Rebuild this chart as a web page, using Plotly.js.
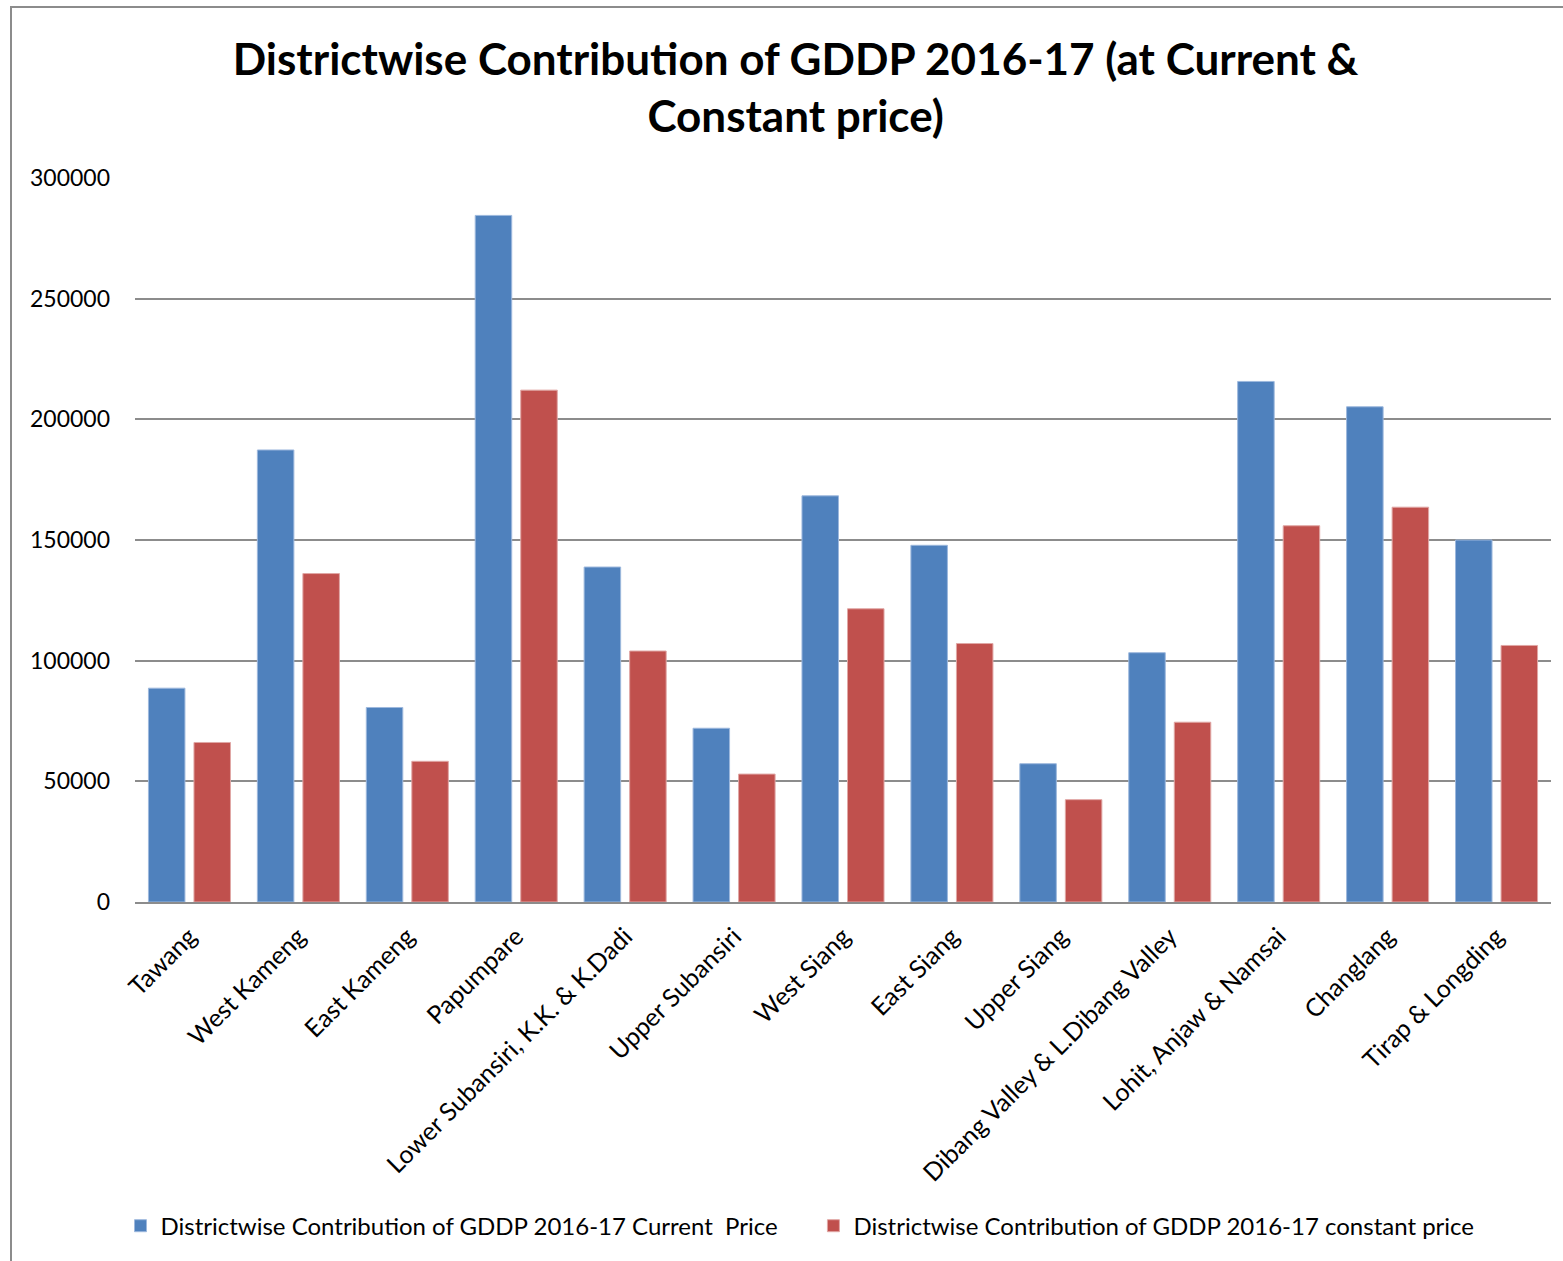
<!DOCTYPE html>
<html>
<head>
<meta charset="utf-8">
<script src="https://cdn.plot.ly/plotly-3.0.1.min.js"></script>
<style>
  html, body { margin: 0; padding: 0; background: #fff; }
  #wrap { position: relative; width: 1563px; height: 1261px; overflow: hidden; }
  #chart { position: absolute; left: 0; top: 0; width: 1563px; height: 1261px; }
  #frame { position: absolute; left: 10px; top: 6px; width: 1600px; height: 1300px;
           border-left: 2px solid #8c8c8c; border-top: 2px solid #8c8c8c; pointer-events: none; }
</style>
</head>
<body>
<div id="wrap">
  <div id="chart"></div>
  <div id="frame"></div>
</div>
<script>
const districts = [
  "Tawang", "West Kameng", "East Kameng", "Papumpare",
  "Lower Subansiri, K.K. & K.Dadi", "Upper Subansiri", "West Siang",
  "East Siang", "Upper Siang", "Dibang Valley & L.Dibang Valley",
  "Lohit, Anjaw & Namsai", "Changlang", "Tirap & Longding"
];
const currentPrice = [88600, 187300, 80600, 284500, 138800, 72000, 168300, 147800, 57300, 103300, 215700, 205200, 150000];
const constantPrice = [66100, 136100, 58300, 212100, 104000, 53000, 121500, 107100, 42400, 74500, 155900, 163600, 106300];
const seriesNames = [
  "Districtwise Contribution of GDDP 2016-17 Current \u00a0Price",
  "Districtwise Contribution of GDDP 2016-17 constant price"
];
const yTicks = [0, 50000, 100000, 150000, 200000, 250000, 300000];

const FONT = "Lato, 'Open Sans', sans-serif";

const traces = [
  {
    type: "bar", name: seriesNames[0] + "\u00a0\u00a0\u00a0\u00a0\u00a0", x: districts, y: currentPrice,
    marker: { color: "#4F81BD", line: { color: "#9db8dd", width: 1 } }
  },
  {
    type: "bar", name: seriesNames[1], x: districts, y: constantPrice,
    marker: { color: "#C0504D", line: { color: "#e0a7a5", width: 1 } }
  }
];

const layout = {
  width: 1563, height: 1261,
  paper_bgcolor: "#ffffff", plot_bgcolor: "#ffffff",
  margin: { l: 135, r: 12, t: 178, b: 356 },
  font: { family: FONT, color: "#000000" },
  title: {
    text: "<b>Districtwise Contribution of GDDP 2016-17 (at Current &<br>Constant price)</b>",
    font: { family: FONT, size: 44, color: "#000000" },
    xref: "container", yref: "container",
    x: 0.509, xanchor: "center",
    y: 1 - 75 / 1261, yanchor: "middle"
  },
  barmode: "group",
  bargap: 0.164,
  bargroupgap: 0.198,
  xaxis: {
    type: "category",
    tickangle: -45,
    tickfont: { family: FONT, size: 25, color: "#000000" },
    showline: true, linecolor: "#8c8c8c", linewidth: 2,
    showgrid: false, ticks: "", ticklabelstandoff: 8,
    automargin: false
  },
  yaxis: {
    range: [0, 300000],
    tickvals: yTicks,
    ticktext: yTicks.map(String),
    tickfont: { family: FONT, size: 23, color: "#000000" },
    showgrid: true, gridcolor: "#8c8c8c", gridwidth: 2,
    zeroline: false, showline: false, ticks: "",
    ticklabelstandoff: 24,
    automargin: false
  },
  legend: {
    orientation: "h",
    x: (800 - 135) / 1416, xanchor: "center",
    y: (904 - 1229) / 726, yanchor: "middle",
    font: { family: FONT, size: 24, color: "#000000" },
    itemwidth: 30,
    traceorder: "normal"
  },
  showlegend: true
};

Plotly.newPlot("chart", traces, layout, { displayModeBar: false, staticPlot: true });
</script>
</body>
</html>
